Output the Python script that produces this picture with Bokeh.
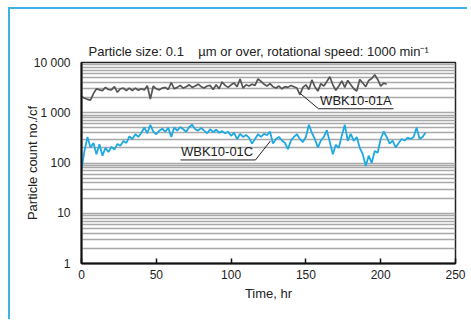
import numpy as np
from bokeh.plotting import figure
from bokeh.models import FixedTicker, Label, Range1d
from bokeh.embed import file_html
from bokeh.resources import INLINE

# ---- data ----
time_a = list(range(0, 206, 2))
count_a = [2120, 1950, 1850, 1780, 2400, 3000, 2850, 2750, 3200, 2900,
           2850, 3300, 2550, 3000, 3100, 2750, 3100, 2750, 3100, 2800,
           3000, 2850, 3450, 1880, 3400, 3000, 2850, 3100, 3200, 2900,
           4000, 3000, 3200, 3500, 3100, 3300, 3600, 3200, 3400, 3700,
           3300, 3100, 3400, 3500, 2900, 3600, 3000, 4100, 3500, 3200,
           3600, 3900, 3300, 4700, 3100, 3600, 3400, 3700, 3500, 4700,
           4200, 3700, 3400, 3800, 3300, 3100, 3400, 3000, 3300, 3200,
           3500, 3300, 3100, 2300, 3200, 3600, 2900, 4500, 3300, 2700,
           3800, 3400, 4200, 5200, 3600, 2800, 3400, 4300, 3200, 4400,
           3600, 3000, 2700, 4600, 3900, 3300, 4400, 4800, 5700, 4600,
           3400, 3900, 3700]

time_c = list(range(0, 232, 2))
count_c = [75, 174, 331, 203, 250, 150, 236, 140, 200, 165,
           210, 185, 240, 220, 275, 250, 340, 300, 374, 330,
           400, 509, 390, 575, 420, 374, 440, 480, 420, 500,
           331, 510, 440, 520, 470, 420, 520, 575, 470, 440,
           500, 440, 390, 470, 410, 460, 400, 430, 390, 420,
           347, 400, 297, 380, 330, 360, 320, 243, 300, 374,
           330, 380, 360, 423, 243, 300, 330, 280, 250, 188,
           280, 330, 374, 300, 260, 330, 575, 400, 300, 203,
           280, 330, 450, 260, 149, 230, 200, 350, 575, 275,
           380, 275, 330, 200, 150, 87, 140, 100, 174, 160,
           300, 423, 330, 243, 280, 203, 250, 300, 280, 320,
           300, 330, 509, 300, 330, 404]

y_tick_values = [1, 10, 100, 1000, 10000]
y_tick_labels = ["1", "10", "100", "1 000", "10 000"]
x_tick_values = [0, 50, 100, 150, 200, 250]
title_text = "Particle size: 0.1\u00a0\u00a0\u00a0 \u00b5m or over, rotational speed: 1000 min\u207b\u00b9"

FONT = "Liberation Sans"
BLUE_FRAME = "#3cb2e6"

p = figure(width=459, height=312, output_backend="svg", toolbar_location=None,
           y_axis_type="log", x_range=Range1d(0, 250), y_range=Range1d(1, 10000),
           min_border_left=71, min_border_right=14, min_border_top=53,
           min_border_bottom=58, title=title_text,
           styles={"margin-left": "8px", "margin-top": "7px",
                   "border-left": f"2px solid {BLUE_FRAME}",
                   "border-top": f"2px solid {BLUE_FRAME}"})
p.background_fill_color = "white"
p.border_fill_color = "white"
p.outline_line_color = "#222222"
p.outline_line_width = 1.5

p.title.text_font = FONT
p.title.text_font_size = "13px"
p.title.text_font_style = "normal"
p.title.text_color = "#222222"
p.title.align = "left"
p.title.offset = 7
p.title.standoff = 7

# grid: every minor log step
grid_vals = []
for d in y_tick_values[:-1]:
    grid_vals += [d * k for k in range(1, 10)]
grid_vals.append(y_tick_values[-1])
p.ygrid.ticker = FixedTicker(ticks=grid_vals)
p.ygrid.grid_line_color = "#a9a9a9"
p.ygrid.grid_line_width = 1.3
p.xgrid.grid_line_color = None

# axes
p.yaxis.ticker = FixedTicker(ticks=y_tick_values)
p.yaxis.major_label_overrides = {v: l for v, l in zip(y_tick_values, y_tick_labels)}
p.xaxis.ticker = FixedTicker(ticks=x_tick_values)
p.xaxis.major_tick_in = 5
p.xaxis.major_tick_out = 0
for ax in (p.xaxis[0], p.yaxis[0]):
    ax.axis_line_color = "#111111"
    ax.axis_line_width = 2
    ax.major_tick_line_width = 1.5
    ax.minor_tick_line_color = None
    ax.major_label_text_font = FONT
    ax.major_label_text_font_size = "12px"
    ax.major_label_text_color = "#222222"
    ax.axis_label_text_font = FONT
    ax.axis_label_text_font_size = "13px"
    ax.axis_label_text_font_style = "normal"
    ax.axis_label_text_color = "#222222"
p.xaxis.major_tick_line_color = "#111111"
p.yaxis.major_tick_line_color = None
p.yaxis.major_label_standoff = 5
p.xaxis.major_label_standoff = 6
p.xaxis.axis_label = "Time, hr"
p.xaxis.axis_label_standoff = 4
p.yaxis.axis_label = "Particle count no./cf"
p.yaxis.axis_label_standoff = -9

# series
p.line(time_a, count_a, line_color="#555555", line_width=1.7)
p.line(time_c, count_c, line_color="#1ea9e1", line_width=1.8)

# leader lines and labels
p.line([146.4, 158.4, 208.6], [2400, 1202, 1202], line_color="#222222", line_width=1)
p.add_layout(Label(x=159.5, y=1260, text="WBK10-01A", text_font=FONT,
                   text_font_size="13px", text_color="#222222",
                   text_baseline="bottom", text_align="left"))
p.line([66.2, 116.3, 126.3], [115, 115, 275], line_color="#222222", line_width=1)
p.add_layout(Label(x=66.5, y=121, text="WBK10-01C", text_font=FONT,
                   text_font_size="13px", text_color="#222222",
                   text_baseline="bottom", text_align="left"))

open("out.html", "w").write(file_html(p, INLINE))
